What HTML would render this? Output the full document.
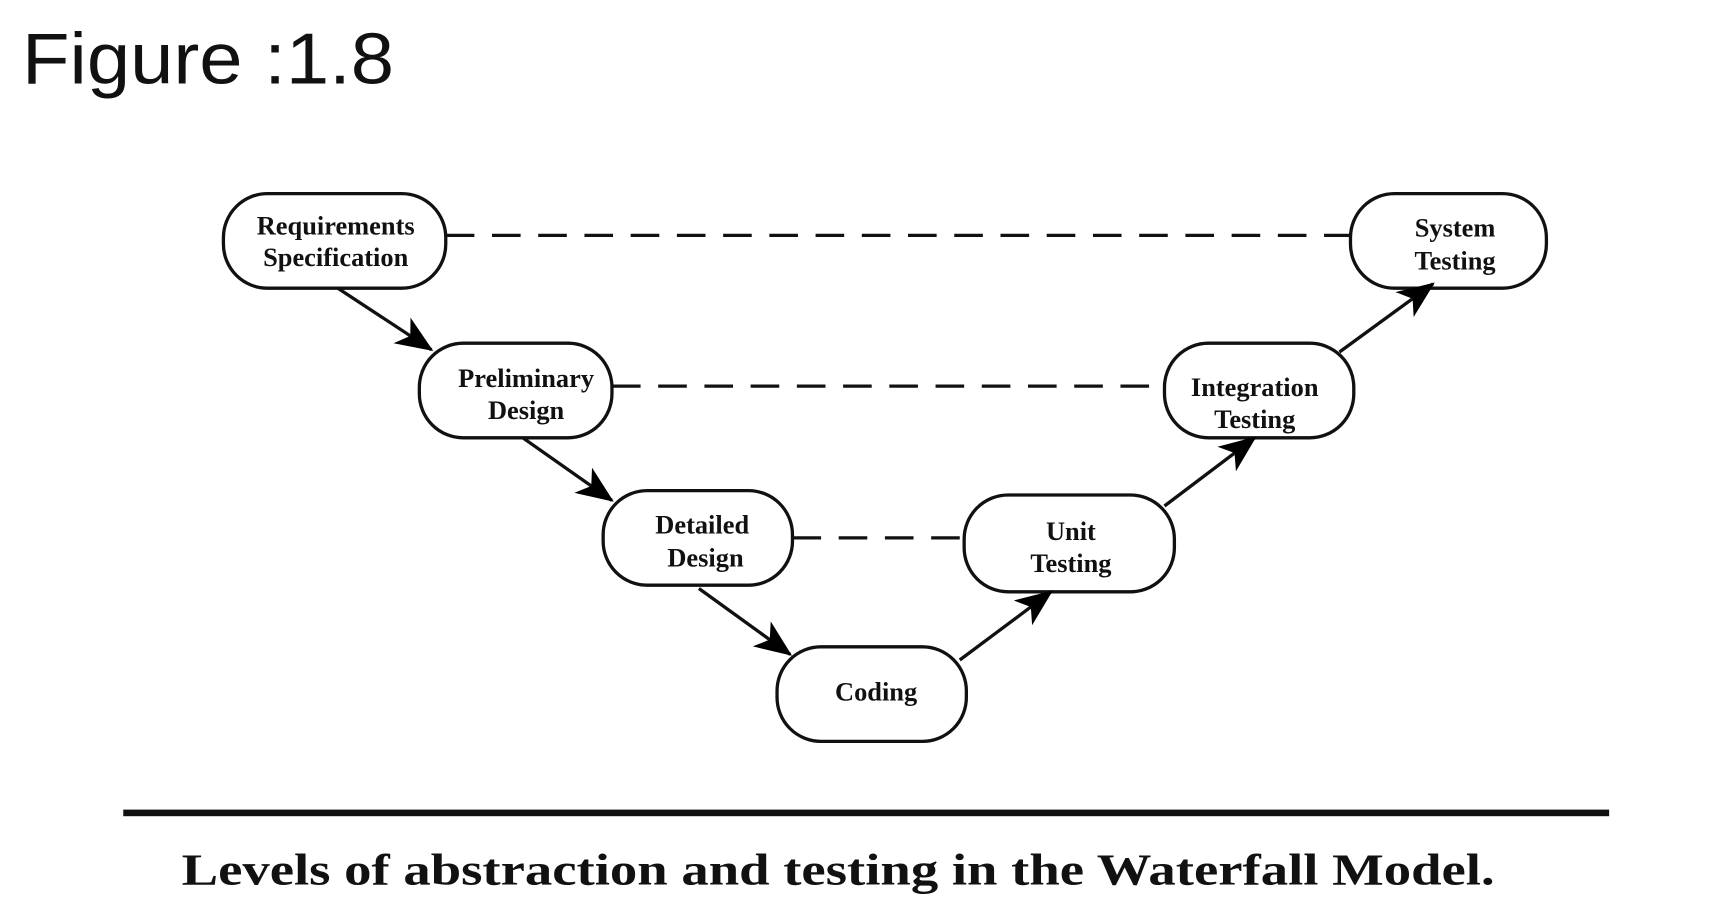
<!DOCTYPE html>
<html><head><style>html,body{margin:0;padding:0;background:#fff;}svg{display:block}</style></head>
<body>
<svg width="1717" height="924" viewBox="0 0 1560 840" preserveAspectRatio="none" xmlns="http://www.w3.org/2000/svg">
<defs>
<marker id="b" markerWidth="34" markerHeight="28" refX="32" refY="14" orient="auto" markerUnits="userSpaceOnUse"><path d="M0,0 L34,14 L0,28 L9,14 z" fill="#000"/></marker></defs>
<text x="20" y="76" font-family="Liberation Sans, sans-serif" font-size="66" fill="#111" textLength="338" lengthAdjust="spacingAndGlyphs">Figure :1.8</text>
<g stroke="#111" stroke-width="3" fill="none" stroke-dasharray="26,16">
<line x1="405" y1="214" x2="1227" y2="214"/>
<line x1="556" y1="351" x2="1058" y2="351"/>
<line x1="720" y1="489" x2="876" y2="489"/>
</g>
<g stroke="#111" stroke-width="3" fill="#fff">
<rect x="203" y="176" width="202" height="86" rx="40"/>
<rect x="1227" y="176" width="178" height="86" rx="40"/>
<rect x="381" y="312" width="175" height="86" rx="40"/>
<rect x="1058" y="312" width="172" height="86" rx="40"/>
<rect x="548" y="446" width="172" height="86" rx="40"/>
<rect x="876" y="450" width="191" height="88" rx="40"/>
<rect x="706" y="588" width="172" height="86" rx="40"/>
</g>
<g stroke="#111" stroke-width="3" marker-end="url(#b)">
<line x1="307" y1="262" x2="392" y2="318"/>
<line x1="475" y1="398" x2="556" y2="455"/>
<line x1="635" y1="535" x2="718" y2="595"/>
<line x1="872" y1="600" x2="955" y2="538"/>
<line x1="1058" y1="460" x2="1140" y2="398"/>
<line x1="1217" y1="320" x2="1302" y2="258"/>
</g>
<g font-family="Liberation Serif, serif" font-weight="bold" font-size="24" text-anchor="middle" fill="#111">
<text x="305" y="213">Requirements</text><text x="305" y="242">Specification</text>
<text x="1322" y="215">System</text><text x="1322" y="245">Testing</text>
<text x="478" y="352">Preliminary</text><text x="478" y="381">Design</text>
<text x="1140" y="360">Integration</text><text x="1140" y="389">Testing</text>
<text x="638" y="485">Detailed</text><text x="641" y="515">Design</text>
<text x="973" y="491">Unit</text><text x="973" y="520">Testing</text>
<text x="796" y="637">Coding</text>
</g>
<rect x="112" y="736" width="1350" height="6" fill="#111"/>
<text x="165" y="804" font-family="Liberation Serif, serif" font-weight="bold" font-size="40" fill="#111" textLength="1193" lengthAdjust="spacingAndGlyphs">Levels of abstraction and testing in the Waterfall Model.</text>
</svg>
</body></html>
